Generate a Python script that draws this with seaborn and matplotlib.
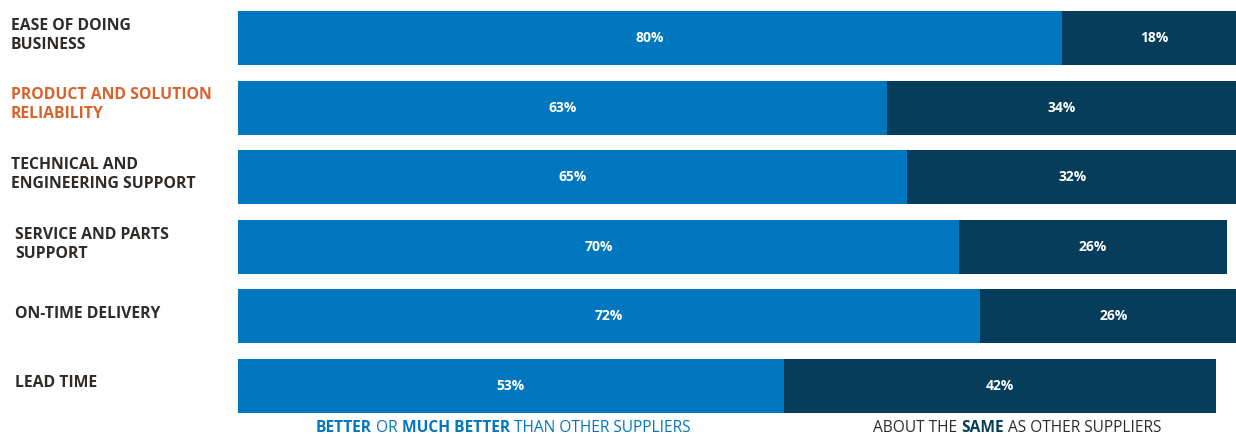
"""Supplier comparison: stacked horizontal bars."""

import matplotlib
matplotlib.use("Agg")

import matplotlib.pyplot as plt  # noqa: E402
import matplotlib.transforms as mtransforms  # noqa: E402
import pandas as pd  # noqa: E402
import seaborn as sns  # noqa: E402

# Dados
categories = [
    "EASE OF DOING\nBUSINESS",
    "PRODUCT AND SOLUTION\nRELIABILITY",
    "TECHNICAL AND\nENGINEERING SUPPORT",
    "SERVICE AND PARTS\nSUPPORT",
    "ON-TIME DELIVERY",
    "LEAD TIME",
]
better = [80, 63, 65, 70, 72, 53]
same = [18, 34, 32, 26, 26, 42]
label_indent = [11, 11, 11, 15, 15, 15]
highlight = "PRODUCT AND SOLUTION\nRELIABILITY"

BLUE = "#0077be"
DARK = "#053d5b"
ORANGE = "#d9622b"
TEXT = "#2e2b28"

sns.set_theme(style="white")
plt.rcParams["font.family"] = ["Open Sans", "DejaVu Sans"]

df = pd.DataFrame({"cat": categories, "better": better, "same": same})
df["total"] = df["better"] + df["same"]

W, H = 1236, 434
fig = plt.figure(figsize=(W / 100, H / 100), dpi=100)
ax = fig.add_axes([238 / W, 1 - 420.8 / H, 1 - 238 / W, 417.6 / H])

sns.barplot(data=df, y="cat", x="total", color=DARK, orient="h", width=0.776,
            saturation=1, linewidth=0, ax=ax)
sns.barplot(data=df, y="cat", x="better", color=BLUE, orient="h", width=0.776,
            saturation=1, linewidth=0, ax=ax)

ax.set_xlim(0, 96.9)
ax.set_ylim(5.5, -0.5)
ax.set_xlabel("")
ax.set_ylabel("")
ax.set_xticks([])
ax.set_yticks([])
for s in ax.spines.values():
    s.set_visible(False)
ax.patch.set_alpha(0)

# Rótulos de valor
for i, (b, s) in enumerate(zip(better, same)):
    ax.text(b / 2, i, f"{b}%", ha="center", va="center", color="white",
            fontsize=10, fontweight="bold", clip_on=False)
    ax.text(b + s / 2, i, f"{s}%", ha="center", va="center", color="white",
            fontsize=10, fontweight="bold", clip_on=False)

# Rótulos das categorias
trans = mtransforms.blended_transform_factory(fig.transFigure, ax.transData)
for i, (cat, dx) in enumerate(zip(categories, label_indent)):
    ax.text(dx / W, i - 0.04, cat, transform=trans, ha="left", va="center",
            fontsize=11.3, fontweight="bold", linespacing=1.25,
            color=ORANGE if cat == highlight else TEXT)

# Legenda (texto misto)
def mixed_text(x_px, parts):
    prev = None
    for txt, bold, color in parts:
        kw = dict(fontsize=11.2, fontweight="bold" if bold else "normal", color=color,
                  va="top", ha="left")
        if prev is None:
            prev = fig.text(x_px / W, 1 - 420.5 / H, txt, **kw)
        else:
            prev = ax.annotate(txt, xy=(1, 1), xycoords=prev, xytext=(0, 0),
                               textcoords="offset points", annotation_clip=False, **kw)

mixed_text(316, [("BETTER", True, BLUE), (" OR ", False, BLUE),
                 ("MUCH BETTER", True, BLUE), (" THAN OTHER SUPPLIERS", False, BLUE)])
mixed_text(873, [("ABOUT THE ", False, TEXT), ("SAME", True, DARK),
                 (" AS OTHER SUPPLIERS", False, TEXT)])

fig.savefig("out.png", dpi=100)
